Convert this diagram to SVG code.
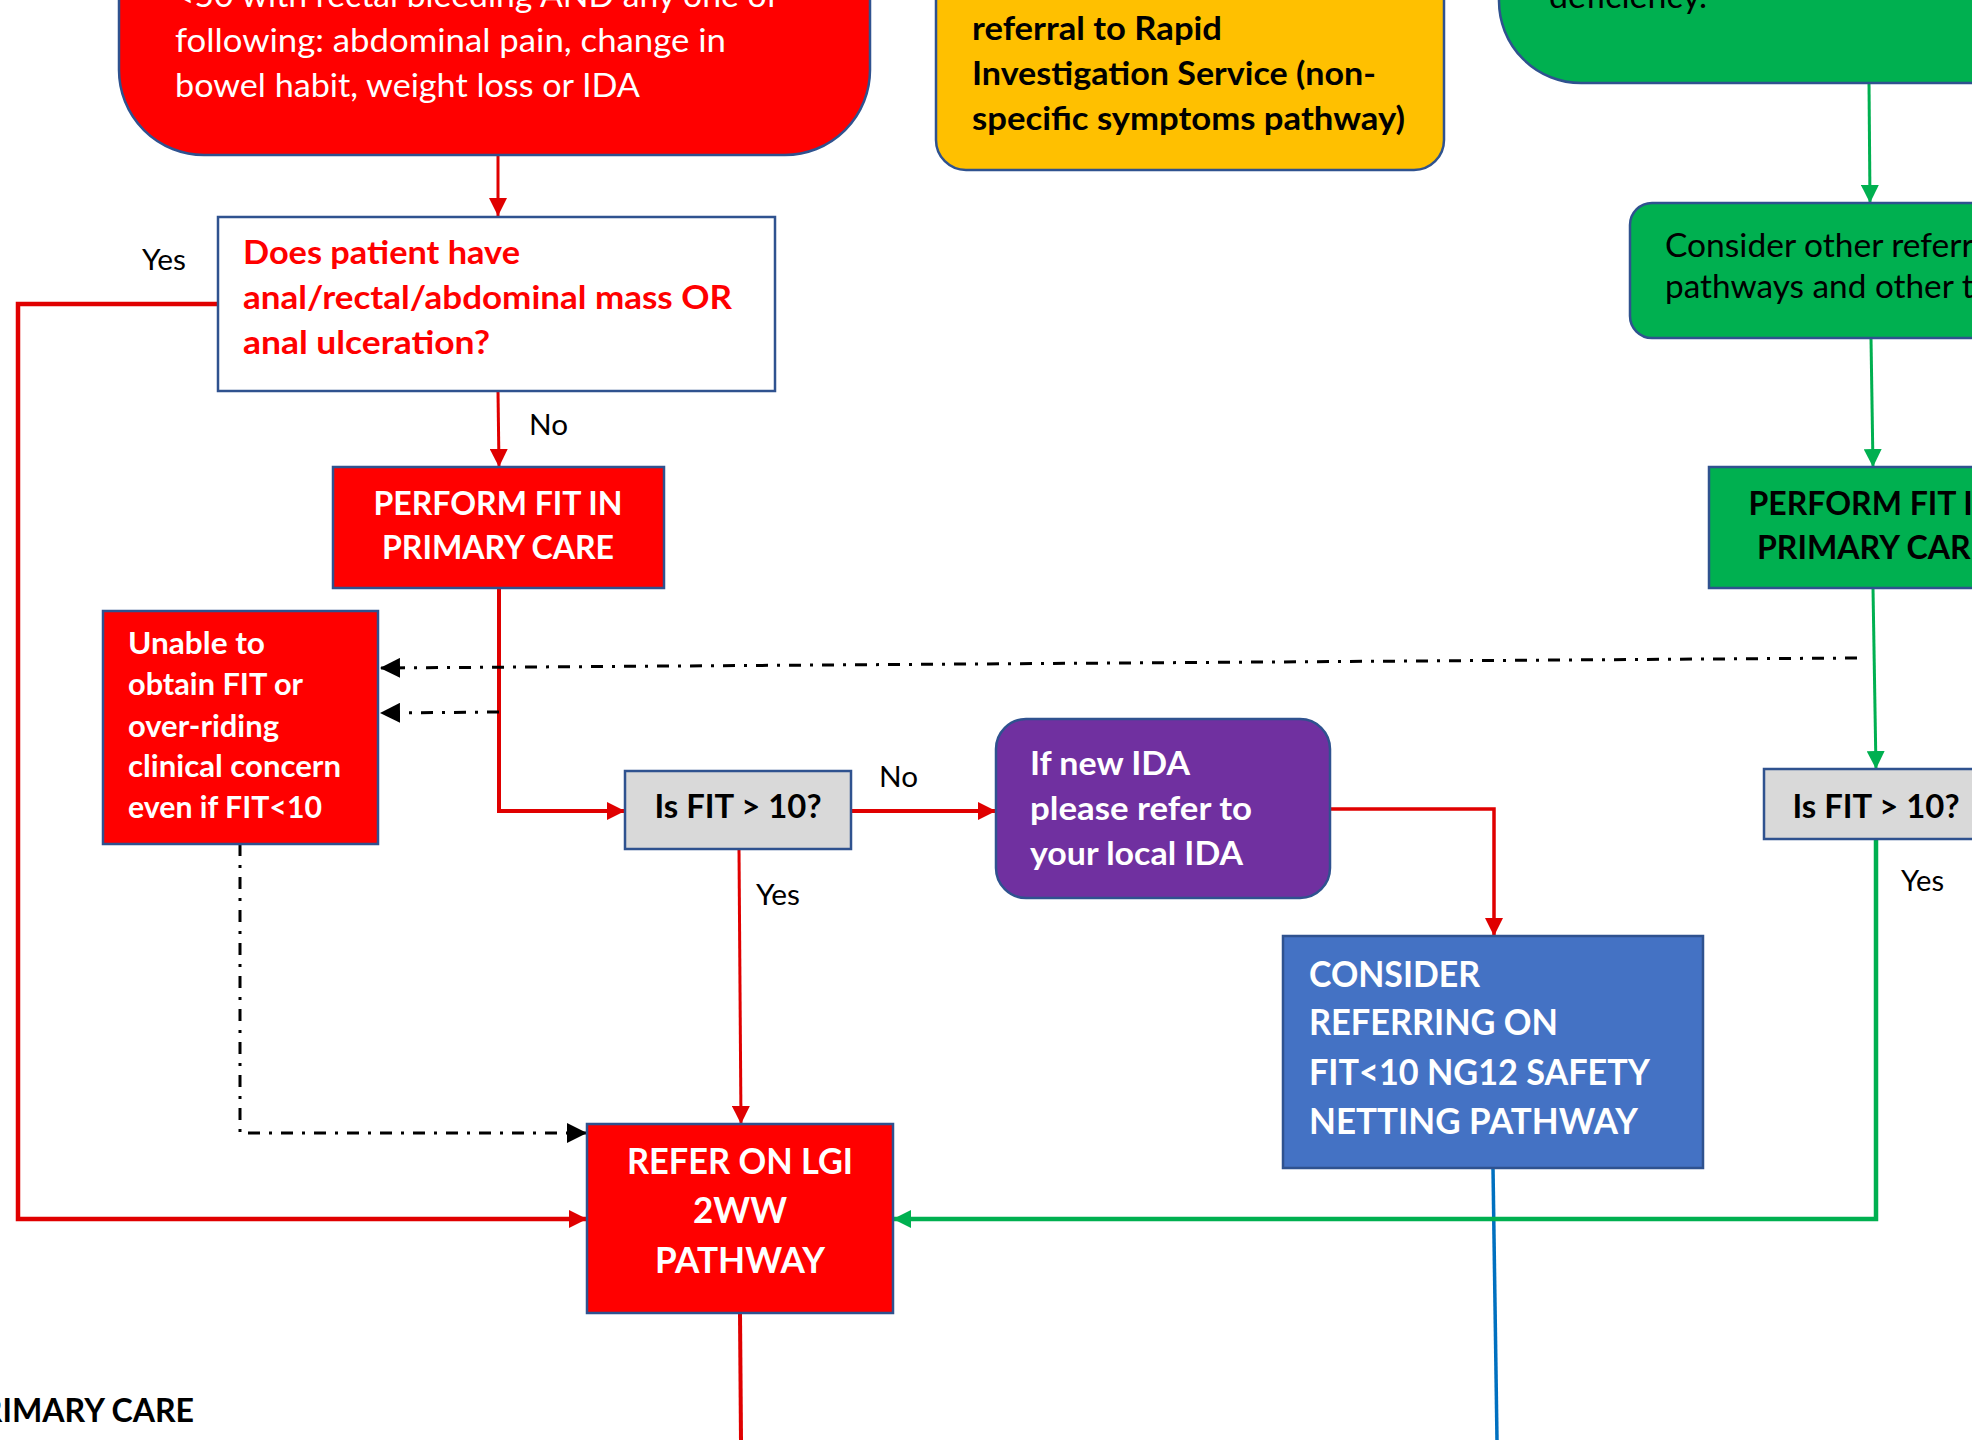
<svg xmlns="http://www.w3.org/2000/svg" width="1972" height="1440" viewBox="0 0 1972 1440">
  <style>
    .box { stroke: #2f528f; stroke-width: 2.5; }
    .red { fill: #ff0000; }
    .yel { fill: #ffc000; }
    .grn { fill: #00b050; }
    .pur { fill: #7030a0; }
    .blu { fill: #4472c4; }
    .gry { fill: #d9d9d9; }
    .wht { fill: #ffffff; }
    text { font-family: Lato, "Liberation Sans", sans-serif; }
    .b { font-weight: 700; }
    .tw { fill: #ffffff; }
    .tk { fill: #000000; }
    .tr { fill: #ff0000; }
    .mid { text-anchor: middle; }
    .lbl { font-size: 29px; fill: #000000; }
    .c-red { fill: none; stroke: #e00000; }
    .c-grn { fill: none; stroke: #00b050; }
    .c-blu { fill: none; stroke: #0070c0; stroke-width: 3.5; }
    .c-dd { fill: none; stroke: #000000; stroke-width: 3; stroke-dasharray: 12 9 3 9; }
  </style>
  <defs>
    <marker id="ah-red" viewBox="0 0 18 18" refX="18" refY="9" markerWidth="18" markerHeight="18" markerUnits="userSpaceOnUse" orient="auto">
      <path d="M0,0 L18,9 L0,18 Z" fill="#e00000"/>
    </marker>
    <marker id="ah-grn" viewBox="0 0 18 18" refX="18" refY="9" markerWidth="18" markerHeight="18" markerUnits="userSpaceOnUse" orient="auto">
      <path d="M0,0 L18,9 L0,18 Z" fill="#00b050"/>
    </marker>
    <marker id="ah-blk" viewBox="0 0 20 20" refX="20" refY="10" markerWidth="20" markerHeight="20" markerUnits="userSpaceOnUse" orient="auto">
      <path d="M0,0 L20,10 L0,20 Z" fill="#000000"/>
    </marker>
  </defs>

  <rect width="1972" height="1440" fill="#ffffff"/>

  <!-- connectors -->
  <g id="connectors">
    <path class="c-red" stroke-width="3" d="M498,155 L498,216" marker-end="url(#ah-red)"/>
    <path class="c-red" stroke-width="4.5" d="M218,304 H18 V1219 H587" marker-end="url(#ah-red)"/>
    <path class="c-red" stroke-width="3" d="M498,391 L499,467" marker-end="url(#ah-red)"/>
    <path class="c-red" stroke-width="4" d="M499,588 V811 H625" marker-end="url(#ah-red)"/>
    <path class="c-red" stroke-width="4" d="M851,811 H996" marker-end="url(#ah-red)"/>
    <path class="c-red" stroke-width="3.5" d="M1330,809 H1494 V936" marker-end="url(#ah-red)"/>
    <path class="c-red" stroke-width="3" d="M739,849 L741,1124" marker-end="url(#ah-red)"/>
    <path class="c-red" stroke-width="4" d="M740,1313 L741,1440"/>
    <path class="c-blu" d="M1493,1168 L1497,1440"/>
    <path class="c-grn" stroke-width="3" d="M1869,83 L1870,203" marker-end="url(#ah-grn)"/>
    <path class="c-grn" stroke-width="3" d="M1871,338 L1873,467" marker-end="url(#ah-grn)"/>
    <path class="c-grn" stroke-width="3" d="M1873,588 L1876,769" marker-end="url(#ah-grn)"/>
    <path class="c-grn" stroke-width="4.5" d="M1876,839 V1219 H893" marker-end="url(#ah-grn)"/>
    <path class="c-dd" d="M1857,658 L380,668" marker-end="url(#ah-blk)"/>
    <path class="c-dd" d="M499,712 L380,713" marker-end="url(#ah-blk)"/>
    <path class="c-dd" d="M240,844 V1133 H587" marker-end="url(#ah-blk)"/>

    <text class="lbl" x="142" y="270" textLength="44" lengthAdjust="spacingAndGlyphs">Yes</text>
    <text class="lbl" x="529" y="435" textLength="39" lengthAdjust="spacingAndGlyphs">No</text>
    <text class="lbl" x="879" y="787" textLength="39" lengthAdjust="spacingAndGlyphs">No</text>
    <text class="lbl" x="756" y="905" textLength="44" lengthAdjust="spacingAndGlyphs">Yes</text>
    <text class="lbl" x="1901" y="891" textLength="43" lengthAdjust="spacingAndGlyphs">Yes</text>
  </g>

  <!-- entry: rectal bleeding under 50 -->
  <g id="node-rectal-bleeding">
    <rect class="box red" x="119" y="-120" width="751" height="275" rx="85" ry="85"/>
    <g class="tw" font-size="32.5">
      <text x="175" y="7" textLength="603" lengthAdjust="spacingAndGlyphs">&lt;50 with rectal bleeding AND any one of</text>
      <text x="175" y="52" textLength="551" lengthAdjust="spacingAndGlyphs">following: abdominal pain, change in</text>
      <text x="175" y="97" textLength="465" lengthAdjust="spacingAndGlyphs">bowel habit, weight loss or IDA</text>
    </g>
  </g>

  <!-- entry: rapid investigation service -->
  <g id="node-ris">
    <rect class="box yel" x="936" y="-80" width="508" height="250" rx="30" ry="30"/>
    <g class="tk b" font-size="33">
      <text x="972" y="40" textLength="250" lengthAdjust="spacingAndGlyphs">referral to Rapid</text>
      <text x="972" y="85" textLength="404" lengthAdjust="spacingAndGlyphs">Investigation Service (non-</text>
      <text x="972" y="130" textLength="433" lengthAdjust="spacingAndGlyphs">specific symptoms pathway)</text>
    </g>
  </g>

  <!-- entry: green pathway -->
  <g id="node-deficiency">
    <rect class="box grn" x="1499" y="-120" width="600" height="203" rx="82" ry="82"/>
    <text class="tk" font-size="32" x="1549" y="8" textLength="158" lengthAdjust="spacingAndGlyphs">deficiency.</text>
  </g>

  <!-- decision: mass or ulceration -->
  <g id="node-mass-question">
    <rect class="box wht" x="218" y="217" width="557" height="174"/>
    <g class="tr b" font-size="33">
      <text x="243" y="264" textLength="277" lengthAdjust="spacingAndGlyphs">Does patient have</text>
      <text x="243" y="309" textLength="489" lengthAdjust="spacingAndGlyphs">anal/rectal/abdominal mass OR</text>
      <text x="243" y="354" textLength="247" lengthAdjust="spacingAndGlyphs">anal ulceration?</text>
    </g>
  </g>

  <!-- perform FIT (red pathway) -->
  <g id="node-perform-fit-red">
    <rect class="box red" x="333" y="467" width="331" height="121"/>
    <g class="tw b mid" font-size="33">
      <text x="498" y="515" textLength="249" lengthAdjust="spacingAndGlyphs">PERFORM FIT IN</text>
      <text x="498" y="559" textLength="232" lengthAdjust="spacingAndGlyphs">PRIMARY CARE</text>
    </g>
  </g>

  <!-- unable to obtain FIT -->
  <g id="node-unable">
    <rect class="box red" x="103" y="611" width="275" height="233"/>
    <g class="tw b" font-size="30">
      <text x="128" y="654" textLength="137" lengthAdjust="spacingAndGlyphs">Unable to</text>
      <text x="128" y="695" textLength="175" lengthAdjust="spacingAndGlyphs">obtain FIT or</text>
      <text x="128" y="737" textLength="151" lengthAdjust="spacingAndGlyphs">over-riding</text>
      <text x="128" y="777" textLength="213" lengthAdjust="spacingAndGlyphs">clinical concern</text>
      <text x="128" y="818" textLength="194" lengthAdjust="spacingAndGlyphs">even if FIT&lt;10</text>
    </g>
  </g>

  <!-- FIT threshold (red pathway) -->
  <g id="node-fit-check-red">
    <rect class="box gry" x="625" y="771" width="226" height="78"/>
    <text class="tk b mid" font-size="33" x="738" y="818" textLength="167" lengthAdjust="spacingAndGlyphs">Is FIT &gt; 10?</text>
  </g>

  <!-- new IDA -->
  <g id="node-ida">
    <rect class="box pur" x="996" y="719" width="334" height="179" rx="30" ry="30"/>
    <g class="tw b" font-size="33">
      <text x="1030" y="775" textLength="160" lengthAdjust="spacingAndGlyphs">If new IDA</text>
      <text x="1030" y="820" textLength="222" lengthAdjust="spacingAndGlyphs">please refer to</text>
      <text x="1030" y="865" textLength="213" lengthAdjust="spacingAndGlyphs">your local IDA</text>
    </g>
  </g>

  <!-- safety netting -->
  <g id="node-safety-netting">
    <rect class="box blu" x="1283" y="936" width="420" height="232"/>
    <g class="tw b" font-size="36">
      <text x="1309" y="987" textLength="171" lengthAdjust="spacingAndGlyphs">CONSIDER</text>
      <text x="1309" y="1035" textLength="249" lengthAdjust="spacingAndGlyphs">REFERRING ON</text>
      <text x="1309" y="1085" textLength="341" lengthAdjust="spacingAndGlyphs">FIT&lt;10 NG12 SAFETY</text>
      <text x="1309" y="1134" textLength="329" lengthAdjust="spacingAndGlyphs">NETTING PATHWAY</text>
    </g>
  </g>

  <!-- refer on 2WW -->
  <g id="node-refer-2ww">
    <rect class="box red" x="587" y="1124" width="306" height="189"/>
    <g class="tw b mid" font-size="36">
      <text x="740" y="1174" textLength="226" lengthAdjust="spacingAndGlyphs">REFER ON LGI</text>
      <text x="740" y="1223" textLength="94" lengthAdjust="spacingAndGlyphs">2WW</text>
      <text x="740" y="1273" textLength="170" lengthAdjust="spacingAndGlyphs">PATHWAY</text>
    </g>
  </g>

  <!-- other referral pathways -->
  <g id="node-other-pathways">
    <rect class="box grn" x="1630" y="203" width="420" height="135" rx="22" ry="22"/>
    <g class="tk" font-size="32">
      <text x="1665" y="257" textLength="333" lengthAdjust="spacingAndGlyphs">Consider other referral</text>
      <text x="1665" y="298" textLength="367" lengthAdjust="spacingAndGlyphs">pathways and other tests</text>
    </g>
  </g>

  <!-- perform FIT (green pathway) -->
  <g id="node-perform-fit-green">
    <rect class="box grn" x="1709" y="467" width="340" height="121"/>
    <g class="tk b mid" font-size="33">
      <text x="1873" y="515" textLength="249" lengthAdjust="spacingAndGlyphs">PERFORM FIT IN</text>
      <text x="1873" y="559" textLength="232" lengthAdjust="spacingAndGlyphs">PRIMARY CARE</text>
    </g>
  </g>

  <!-- FIT threshold (green pathway) -->
  <g id="node-fit-check-green">
    <rect class="box gry" x="1764" y="769" width="224" height="70"/>
    <text class="tk b mid" font-size="33" x="1876" y="818" textLength="167" lengthAdjust="spacingAndGlyphs">Is FIT &gt; 10?</text>
  </g>

  <!-- section heading -->
  <text class="tk b" font-size="32" x="194" y="1422" text-anchor="end" textLength="232" lengthAdjust="spacingAndGlyphs">PRIMARY CARE</text>
</svg>
